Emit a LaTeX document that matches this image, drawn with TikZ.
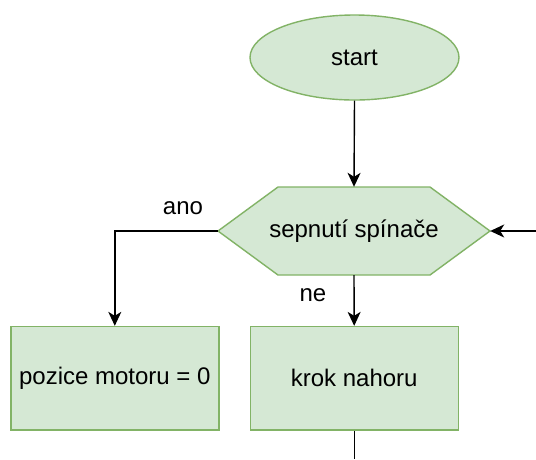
\documentclass[tikz,border=0pt]{standalone}
\usepackage{fontspec}
\setmainfont{Liberation Sans}
\usetikzlibrary{shapes.geometric,arrows.meta}
\definecolor{gfill}{HTML}{D5E8D4}
\definecolor{gline}{HTML}{82B366}
\begin{document}
\begin{tikzpicture}[x=1pt,y=-1pt,
  every node/.style={font=\fontsize{24}{28}\selectfont},
  shp/.style={draw=gline,fill=gfill,line width=1.4pt},
  boxn/.style={shp,rectangle,minimum width=208pt,minimum height=103.5pt,inner sep=0pt},
  conn/.style={line width=1.4pt,-{Stealth[length=14pt,width=13pt,inset=4pt]}},
  lbl/.style={inner sep=0pt}]
\useasboundingbox[fill=white] (0,0) rectangle (536,459);
% start ellipse
\node[shp,ellipse,minimum width=209pt,minimum height=85pt,inner sep=0pt] (start) at (354.5,57.5) {start};
% hexagon
\node[rectangle,minimum width=272pt,minimum height=88pt,inner sep=0pt] (hex) at (354,231) {};
\draw[shp] (218,231) -- (278,187) -- (430,187) -- (490,231) -- (430,275) -- (278,275) -- cycle;
\node at (hex.center) {sepnutí spínače};
% boxes
\node[boxn] (pos) at (114.8,378.3) {pozice motoru = 0};
\node[boxn] (krok) at (354.2,378.3) {krok nahoru};
% connectors
\coordinate (rin) at (536,231);
\coordinate (bout) at (354.2,459);
\draw[conn] (start.south) -- (hex.north);
\draw[conn] (hex.west) -| (pos.north);
\draw[conn] (hex.south) -- (krok.north);
\draw[conn] (rin) -- (hex.east);
\draw[line width=1.4pt] (krok.south) -- (bout);
% labels
\node[lbl] (ano) at (183,208) {ano};
\node[lbl] (ne) at (313,295) {ne};
\end{tikzpicture}
\end{document}
